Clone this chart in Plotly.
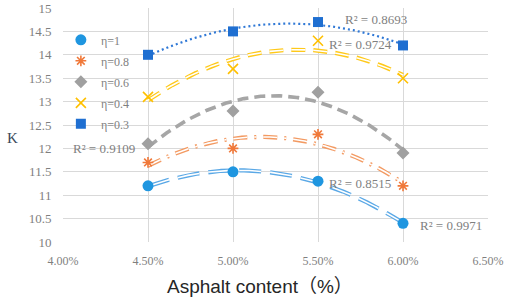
import numpy as np
import plotly.graph_objects as go

# ---- data ----
asphalt = [0.045, 0.050, 0.055, 0.060]
series_names = ["η=1", "η=0.8", "η=0.6", "η=0.4", "η=0.3"]
k_eta_1 = [11.2, 11.5, 11.3, 10.4]
k_eta_08 = [11.7, 12.0, 12.3, 11.2]
k_eta_06 = [12.1, 12.8, 13.2, 11.9]
k_eta_04 = [13.1, 13.7, 14.3, 13.5]
k_eta_03 = [14.0, 14.5, 14.7, 14.2]
r2_labels = ["R² = 0.9971", "R² = 0.8515", "R² = 0.9109", "R² = 0.9724", "R² = 0.8693"]

series = [k_eta_1, k_eta_08, k_eta_06, k_eta_04, k_eta_03]

# ---- styles ----
marker_colors = ["#1F96E0", "#F0793A", "#A0A0A0", "#FFC000", "#1F6FD1"]
trend_colors = ["#5AA8E6", "#F39A62", "#A6A6A6", "#FFC91A", "#2F78D6"]
symbols = ["circle", "asterisk-open", "diamond", "x-thin-open", "square"]
msizes = [11, 9, 10, 10, 10]
# (dash, width, hollow)
trend_styles = [
    ("22px,9px", 4.2, True),
    ("14px,7px,2px,7px", 4.2, True),
    ("11px,6px", 3.6, False),
    ("14px,8px", 4.2, True),
    ("2px,3px", 2.2, False),
]
label_pos = [(0.06088, 10.36), (0.05553, 11.26), (0.04047, 11.99), (0.05553, 14.23), (0.05647, 14.765)]

fig = go.Figure()
xfit = np.linspace(asphalt[0], asphalt[-1], 200)
for i, ys in enumerate(series):
    coef = np.polyfit(asphalt, ys, 2)
    yfit = np.polyval(coef, xfit)
    dash, w, hollow = trend_styles[i]
    fig.add_trace(go.Scatter(x=xfit, y=yfit, mode="lines", showlegend=False, hoverinfo="skip",
                             line=dict(color=trend_colors[i], width=w, dash=dash)))
    if hollow:
        fig.add_trace(go.Scatter(x=xfit, y=yfit, mode="lines", showlegend=False, hoverinfo="skip",
                                 line=dict(color="white", width=1.6, dash=dash)))

for i, ys in enumerate(series):
    mk = dict(symbol=symbols[i], size=msizes[i], color=marker_colors[i])
    if symbols[i].endswith("open"):
        mk["line"] = dict(color=marker_colors[i], width=1.6)
    fig.add_trace(go.Scatter(x=asphalt, y=ys, mode="markers", name=series_names[i],
                             marker=mk, legendgroup=str(i)))

for i, (lx, ly) in enumerate(label_pos):
    fig.add_annotation(x=lx, y=ly, xref="x", yref="y", text=r2_labels[i], showarrow=False,
                       xanchor="left", yanchor="middle",
                       font=dict(family="Liberation Serif", size=13, color="#7F7F7F"))

fig.add_annotation(x=-0.12, y=0.444, xref="paper", yref="paper", text="K", showarrow=False,
                   xanchor="center", yanchor="middle",
                   font=dict(family="Liberation Serif", size=15, color="#3B4A5A"))
fig.add_annotation(x=0.4635, y=-0.192, xref="paper", yref="paper", text="Asphalt content（%）",
                   showarrow=False, xanchor="center", yanchor="middle",
                   font=dict(family="Liberation Sans, Noto Sans CJK SC", size=19, color="#262626"))

fig.update_layout(
    width=505, height=301,
    margin=dict(l=63, r=17, t=8, b=59, autoexpand=False),
    paper_bgcolor="white", plot_bgcolor="white",
    legend=dict(x=-0.005, y=0.926, xanchor="left", yanchor="top", bgcolor="rgba(0,0,0,0)",
                traceorder="grouped", tracegroupgap=2,
                font=dict(family="Liberation Serif", size=12, color="#7F7F7F")),
    xaxis=dict(range=[0.04, 0.065], dtick=0.005, tick0=0.04, tickformat=".2%", automargin=False,
               showgrid=True, gridcolor="#D9D9D9", gridwidth=1, zeroline=False, showline=False,
               ticks="outside", ticklen=8, tickcolor="rgba(0,0,0,0)",
               tickfont=dict(family="Liberation Serif", size=12, color="#7F7F7F")),
    yaxis=dict(range=[10, 15], dtick=0.5, tick0=10, automargin=False,
               showgrid=True, gridcolor="#D9D9D9", gridwidth=1, zeroline=False, showline=False,
               ticks="outside", ticklen=8, tickcolor="rgba(0,0,0,0)",
               tickfont=dict(family="Liberation Serif", size=13, color="#7F7F7F")),
)
fig.write_html("out.html", config={"displayModeBar": False},
               post_script="document.body.style.margin='0px';document.body.style.overflow='hidden';")
